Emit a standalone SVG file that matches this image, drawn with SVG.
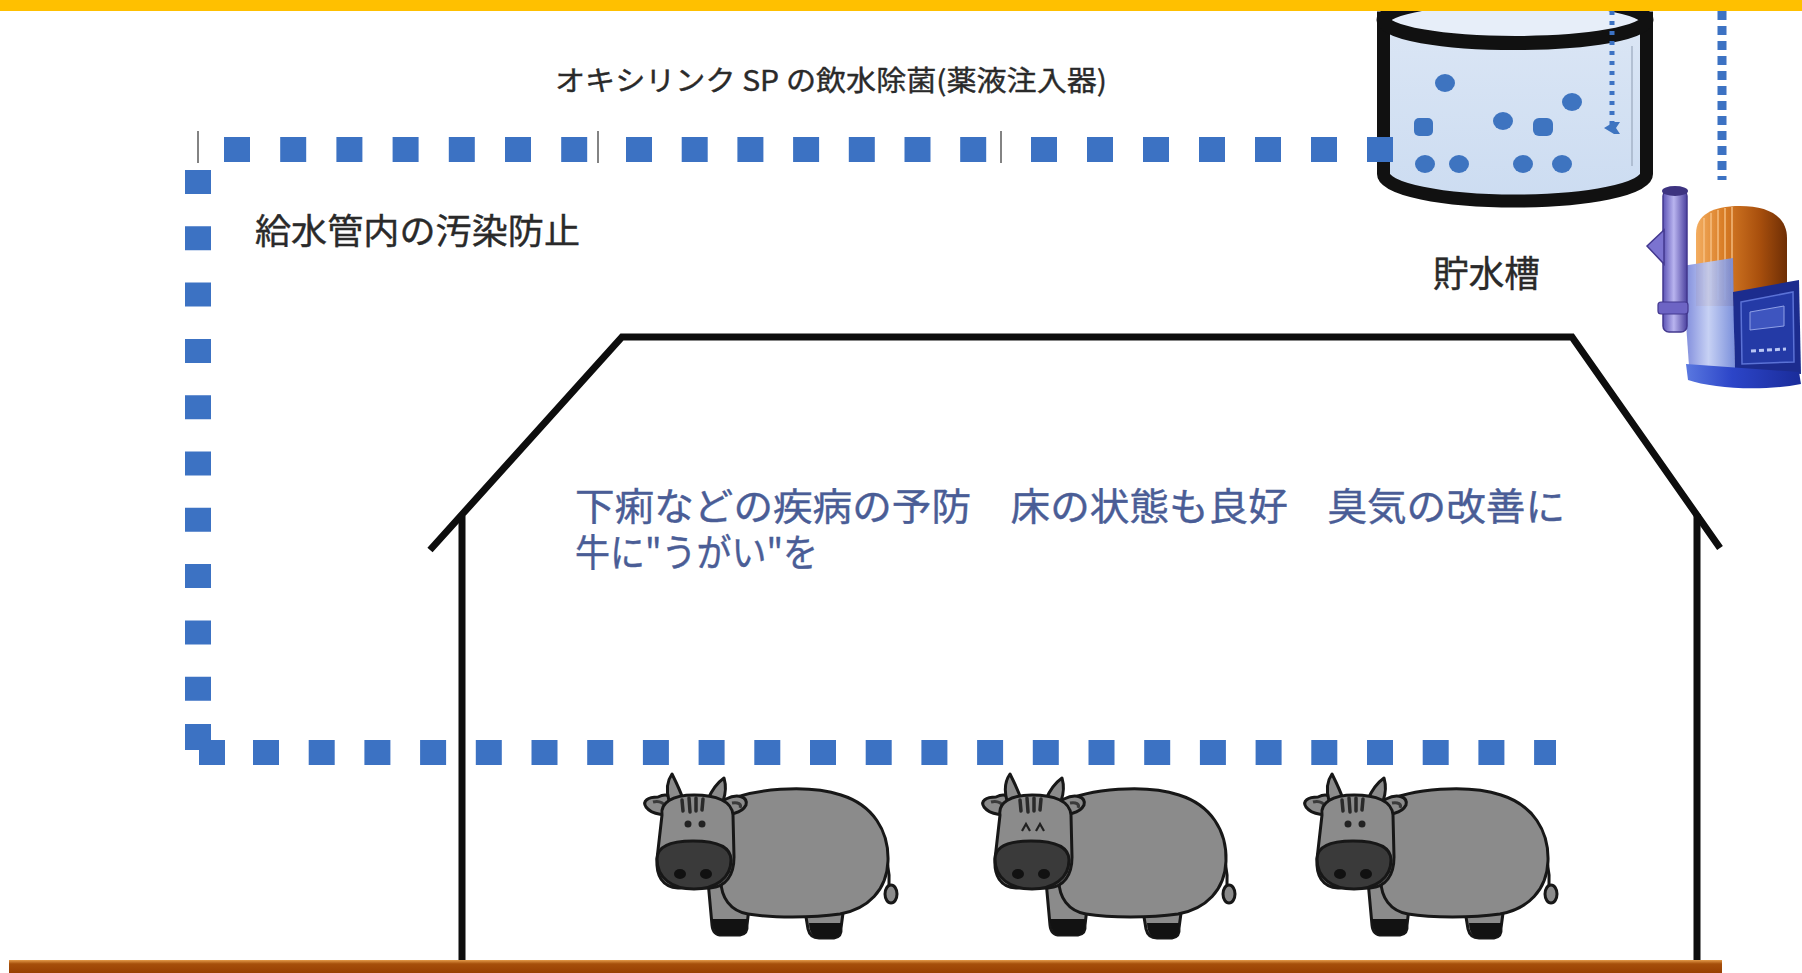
<svg xmlns="http://www.w3.org/2000/svg" width="1802" height="973" viewBox="0 0 1802 973">
  <defs>
    <style>
      .lbl{font-family:"Noto Sans CJK JP","Noto Sans CJK SC",sans-serif;fill:#2a2a2a;stroke:#2a2a2a;stroke-width:0.4}
      .blue{fill:#4a5d96;stroke:#4a5d96}
      .pipe{stroke:#3c72c3;fill:none}
      .sq{fill:#3c72c3}
      .wall{stroke:#0d0d0d;stroke-width:7;fill:none;stroke-linejoin:miter}
      .ol{stroke:#171717;stroke-width:3;stroke-linejoin:round}
      .hide{fill:#8b8b8b}
      .drop{fill:#3e74c0}
      .thin{stroke:#5a5a5a;stroke-width:1.5}
    </style>
    <linearGradient id="ground" x1="0" y1="0" x2="0" y2="1">
      <stop offset="0" stop-color="#e39a4a"/>
      <stop offset="0.3" stop-color="#a64f0b"/>
      <stop offset="1" stop-color="#983f02"/>
    </linearGradient>
    <linearGradient id="tankFill" x1="0" y1="0" x2="0" y2="1">
      <stop offset="0" stop-color="#dbe6f5"/>
      <stop offset="1" stop-color="#ccdcf1"/>
    </linearGradient>
    <linearGradient id="tubeG" x1="0" y1="0" x2="1" y2="0">
      <stop offset="0" stop-color="#5d54b6"/>
      <stop offset="0.45" stop-color="#b9b4ef"/>
      <stop offset="1" stop-color="#4b419f"/>
    </linearGradient>
    <linearGradient id="motorG" x1="0" y1="0" x2="1" y2="0">
      <stop offset="0" stop-color="#f3ad60"/>
      <stop offset="0.3" stop-color="#d97d26"/>
      <stop offset="0.7" stop-color="#a84f0d"/>
      <stop offset="1" stop-color="#6e2e05"/>
    </linearGradient>
    <linearGradient id="sideG" x1="0" y1="0" x2="1" y2="0">
      <stop offset="0" stop-color="#6a78d6"/>
      <stop offset="0.5" stop-color="#c2cdf3"/>
      <stop offset="1" stop-color="#6f86d8"/>
    </linearGradient>
    <linearGradient id="baseG" x1="0" y1="0" x2="1" y2="0">
      <stop offset="0" stop-color="#5a78e0"/>
      <stop offset="0.4" stop-color="#2c45c8"/>
      <stop offset="1" stop-color="#1a2c9a"/>
    </linearGradient>
    <marker id="dropHead" viewBox="0 0 12 16" refX="6" refY="8" markerWidth="12" markerHeight="16" markerUnits="userSpaceOnUse" orient="auto-start-reverse">
      <path d="M0,0 L6,4 L12,0 L12,6 L6,16 L0,6 Z" fill="#3e74c0"/>
    </marker>
    <!-- cartoon cow, local box 0..256 x 0..167 -->
    <g id="cow">
      <path d="M238,72 C246,86 248,100 247,113" stroke="#171717" stroke-width="3" fill="none"/>
      <ellipse cx="249" cy="121" rx="6" ry="9" class="hide ol"/>
      <path d="M160,120 L166,156 Q168,165 177,165 L192,165 Q200,164 199,155 L204,118 Z" class="hide ol"/>
      <path d="M167,150 Q168,165 177,165 L192,165 Q200,164 199,150 Z" fill="#121212"/>
      <path d="M66,108 L70,152 Q71,162 80,162 L98,162 Q106,161 105,152 L110,110 Z" class="hide ol"/>
      <path d="M70,146 Q71,162 80,162 L98,162 Q106,161 105,146 Z" fill="#121212"/>
      <path d="M80,30 C110,15 166,11 199,22 C231,32 247,58 246,88 C245,117 226,136 198,141 C170,145 130,145 106,141 C88,138 79,124 79,108 Z" class="hide ol"/>
      <path d="M16,24 C28,18 36,28 32,38 C26,44 10,42 4,34 C0,28 6,24 16,24 Z" class="hide ol"/>
      <path d="M11,29 C18,27 24,31 22,35" stroke="#3a3a3a" stroke-width="3" fill="none"/>
      <path d="M84,26 C96,20 106,24 104,32 C100,40 86,44 78,38 C74,32 78,28 84,26 Z" class="hide ol"/>
      <path d="M90,30 C96,29 100,31 98,35" stroke="#3a3a3a" stroke-width="3" fill="none"/>
      <path d="M27,28 C24,17 25,8 30,1 C34,9 38,17 41,26 Z" class="hide ol"/>
      <path d="M66,26 C70,17 75,10 82,5 C84,12 84,20 81,28 Z" class="hide ol"/>
      <path d="M20,42 C18,30 30,22 52,22 C74,22 90,28 91,42 L92,84 C92,102 84,114 68,115 L36,115 C20,114 14,102 15,86 Z" class="hide ol"/>
      <path d="M40,27 L41,38 M47,25 L48,39 M54,25 L54,38 M61,26 L60,37" stroke="#2a2a2a" stroke-width="3.5" stroke-linecap="round"/>
      <path d="M15,86 C15,73 30,68 51,68 C73,68 89,73 89,87 C89,105 74,116 52,116 C30,116 15,105 15,86 Z" fill="#3a3a3a" class="ol"/>
      <ellipse cx="38" cy="101" rx="6" ry="5" fill="#111"/>
      <ellipse cx="64" cy="101" rx="6" ry="5" fill="#111"/>
    </g>
  </defs>

  <rect width="1802" height="973" fill="#ffffff"/>

  <!-- ground strip -->
  <rect id="ground-strip" x="9" y="960" width="1713" height="13" fill="url(#ground)"/>

  <!-- barn outline -->
  <g id="barn">
    <polyline class="wall" points="430,550 622,337 1572,337 1720,548"/>
    <line class="wall" x1="462" y1="516" x2="462" y2="960"/>
    <line class="wall" x1="1697" y1="514" x2="1697" y2="960"/>
  </g>

  <!-- storage tank -->
  <g id="tank">
    <path d="M1383.5,18 L1383.5,174 A131.5,27 0 0 0 1646.5,174 L1646.5,18 Z" fill="url(#tankFill)" stroke="#111" stroke-width="13"/>
    <ellipse cx="1515" cy="20" rx="131.5" ry="23" fill="#e7eef9" stroke="#111" stroke-width="14"/>
    <line x1="1632" y1="46" x2="1632" y2="166" stroke="#9aa8bd" stroke-width="1.2"/>
    <ellipse class="drop" cx="1445" cy="83" rx="10" ry="9"/>
    <ellipse class="drop" cx="1572" cy="102" rx="10" ry="9"/>
    <rect class="drop" x="1414" y="118" width="19" height="18" rx="5"/>
    <ellipse class="drop" cx="1503" cy="121" rx="10" ry="9"/>
    <rect class="drop" x="1533" y="118" width="20" height="18" rx="6"/>
    <ellipse class="drop" cx="1425" cy="164" rx="10" ry="9"/>
    <ellipse class="drop" cx="1459" cy="164" rx="10" ry="9"/>
    <ellipse class="drop" cx="1523" cy="164" rx="10" ry="9"/>
    <ellipse class="drop" cx="1562" cy="164" rx="10" ry="9"/>
  </g>

  <!-- dosing pump -->
  <g id="pump">
    <path d="M1696,306 L1696,234 C1696,215 1712,206 1740,206 C1768,206 1787,216 1787,238 L1787,306 Z" fill="url(#motorG)"/>
    <g stroke="#f9c58a" stroke-width="2" opacity="0.65">
      <line x1="1704" y1="218" x2="1704" y2="300"/>
      <line x1="1711" y1="213" x2="1711" y2="300"/>
      <line x1="1718" y1="210" x2="1718" y2="300"/>
      <line x1="1725" y1="208" x2="1725" y2="300"/>
      <line x1="1732" y1="207" x2="1732" y2="300"/>
    </g>
    <path d="M1682,266 L1733,258 L1735,370 L1689,366 Z" fill="url(#sideG)" opacity="0.92"/>
    <rect x="1663" y="190" width="24" height="142" rx="6" fill="url(#tubeG)" stroke="#43388f" stroke-width="1.5"/>
    <ellipse cx="1675" cy="191" rx="13" ry="5" fill="#3d3380"/>
    <path d="M1647,246 L1664,230 L1664,264 Z" fill="#7b73d0" stroke="#43388f" stroke-width="1.5"/>
    <rect x="1658" y="302" width="30" height="12" rx="3" fill="#6d64c4" stroke="#43388f" stroke-width="1.2"/>
    <path d="M1733,292 L1799,280 L1801,374 L1735,370 Z" fill="#1c2c8e"/>
    <path d="M1741,302 L1793,292 L1794,362 L1742,364 Z" fill="#243aa6" stroke="#5b72d6" stroke-width="1.5"/>
    <path d="M1750,312 L1784,306 L1784,326 L1750,330 Z" fill="#3e55bf" stroke="#8fa0e6" stroke-width="1"/>
    <path d="M1751,351 L1786,349" stroke="#b9c6f4" stroke-width="3" stroke-dasharray="5 3"/>
    <path d="M1686,364 L1799,372 L1801,384 C1760,392 1712,388 1688,380 Z" fill="url(#baseG)"/>
  </g>

  <!-- cattle -->
  <g id="cow-1" transform="translate(642,773)">
    <use href="#cow"/>
    <circle cx="46" cy="51" r="3.5" fill="#222"/>
    <circle cx="60" cy="51" r="3.5" fill="#222"/>
  </g>
  <g id="cow-2" transform="translate(980,773)">
    <use href="#cow"/>
    <path d="M42,58 L46,51 L50,58 M56,58 L60,51 L64,58" stroke="#222" stroke-width="2.2" fill="none"/>
  </g>
  <g id="cow-3" transform="translate(1302,773)">
    <use href="#cow"/>
    <circle cx="46" cy="51" r="3.5" fill="#222"/>
    <circle cx="60" cy="51" r="3.5" fill="#222"/>
  </g>

  <!-- water lines -->
  <g id="connectors">
    <line class="thin" x1="198" y1="131" x2="198" y2="163"/>
    <line class="thin" x1="598" y1="131" x2="598" y2="163"/>
    <line class="thin" x1="1001" y1="131" x2="1001" y2="163"/>
    <line class="pipe" x1="224" y1="149.5" x2="587.5" y2="149.5" stroke-width="25" stroke-dasharray="26 30.2"/>
    <line class="pipe" x1="626" y1="149.5" x2="986.5" y2="149.5" stroke-width="25" stroke-dasharray="26 29.7"/>
    <line class="pipe" x1="1031" y1="149.5" x2="1393" y2="149.5" stroke-width="25" stroke-dasharray="26 30"/>
    <line class="pipe" x1="198" y1="170" x2="198" y2="701" stroke-width="26" stroke-dasharray="24 32.3"/>
    <rect class="sq" x="185" y="724" width="26" height="26"/>
    <rect class="sq" x="199" y="740" width="26" height="25"/>
    <line class="pipe" x1="253" y1="752.5" x2="1556" y2="752.5" stroke-width="25" stroke-dasharray="26 29.7"/>
    <line class="pipe" x1="1612" y1="11" x2="1612" y2="128" stroke-width="5" stroke-dasharray="4 6" marker-end="url(#dropHead)"/>
    <line class="pipe" x1="1722" y1="11" x2="1722" y2="180" stroke-width="9" stroke-dasharray="9 6"/>
  </g>

  <!-- labels -->
  <g id="labels">
    <text class="lbl" x="555" y="91" font-size="28" textLength="552" lengthAdjust="spacingAndGlyphs">オキシリンク SP の飲水除菌(薬液注入器)</text>
    <text class="lbl" x="255" y="244" font-size="35" textLength="325" lengthAdjust="spacingAndGlyphs">給水管内の汚染防止</text>
    <text class="lbl" x="1433" y="287" font-size="36" stroke-width="0.9" textLength="107" lengthAdjust="spacingAndGlyphs">貯水槽</text>
    <text class="lbl blue" font-size="38">
      <tspan x="575" y="520" textLength="990" lengthAdjust="spacingAndGlyphs">下痢などの疾病の予防　床の状態も良好　臭気の改善に</tspan>
      <tspan x="575" y="566" textLength="243" lengthAdjust="spacingAndGlyphs">牛に"うがい"を</tspan>
    </text>
  </g>

  <!-- header band -->
  <rect id="header-band" x="0" y="0" width="1802" height="11" fill="#ffc000"/>
</svg>
